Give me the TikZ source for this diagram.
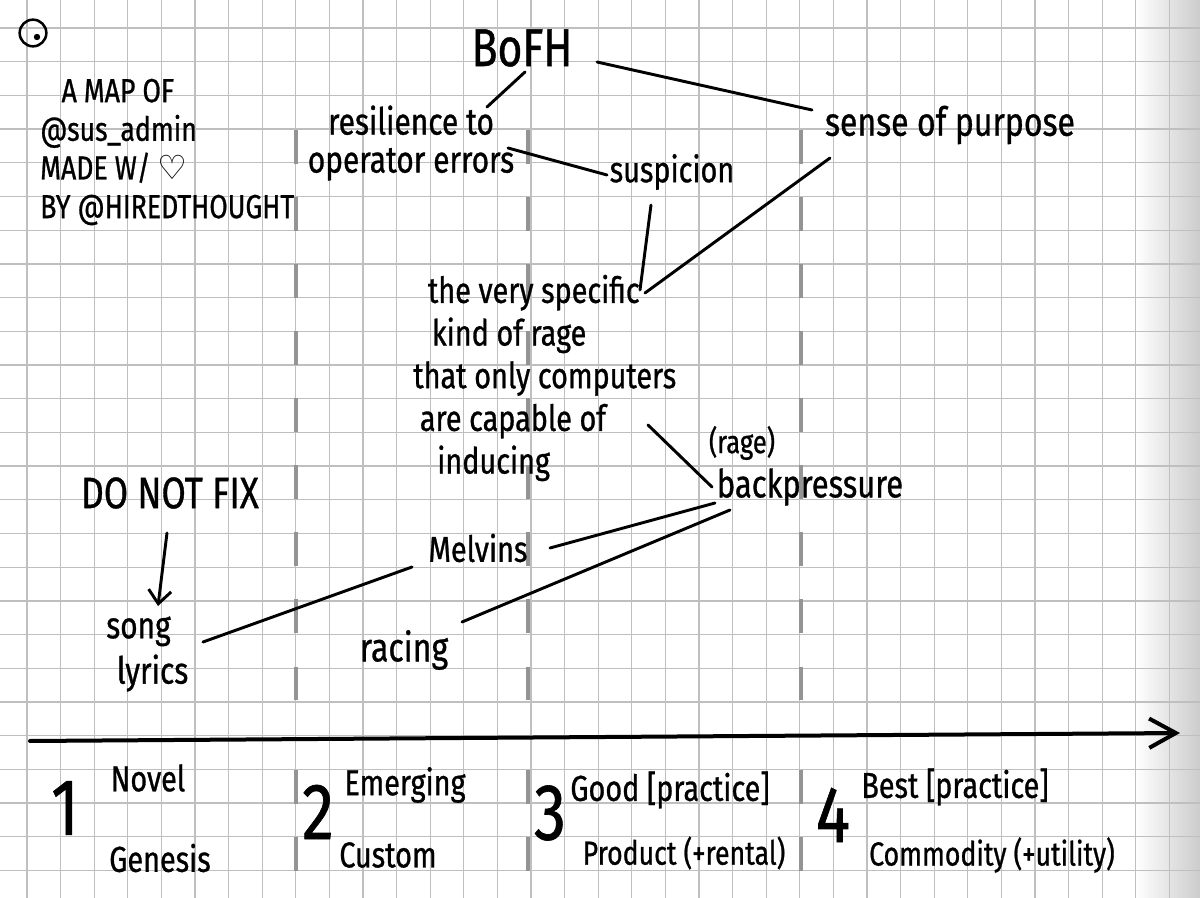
\documentclass[tikz,border=0pt]{standalone}
\usepackage{fontspec}
\setmainfont{Fira Sans}[FakeStretch=0.8,FakeBold=0.8]
\newfontfamily\heartfont{DejaVu Sans}
\usetikzlibrary{arrows.meta}
\newcommand\handsize[2]{\fontsize{#1}{#2}\selectfont}
\tikzset{
  gridline/.style={black!25, line width=1pt},
  stageline/.style={black!42, line width=2.4pt, dash pattern=on 25.5pt off 24.8pt},
  link/.style={line width=2.2pt, line cap=round},
  hand/.style={inner sep=0pt, align=center, font=\handsize{27}{32}},
  stagenum/.style={inner sep=0pt, font=\handsize{60}{60}},
}

\begin{document}
\begin{tikzpicture}[x=0.75pt,y=-0.75pt]
  % Paper
  \useasboundingbox (0,0) rectangle (1200,898);
  \fill[white] (0,0) rectangle (1200,898);
  \shade[left color=white,right color=black!20] (1135,0) rectangle (1200,898);
  \foreach \i in {0,...,35}
    \draw[gridline] ({27+33.6*\i},0) -- ({27+33.6*\i},898);
  \foreach \j in {0,...,26}
    \draw[gridline] (0,{28+33.7*\j}) -- (1200,{28+33.7*\j});
  % Stages
  \foreach \x in {296,528,801} {
    \draw[stageline] (\x,130) -- (\x,700);
    \draw[stageline] (\x,770) -- (\x,875);
  }
  % Evolution axis
  \coordinate (axisstart) at (30,741);
  \coordinate (axisend) at (1180,733);
  \draw[line width=3pt, line cap=round, -{Straight Barb[length=20pt,width=22pt]}] (axisstart) -- (axisend);

  % User
  \node[circle, draw, line width=1.9pt, minimum size=20pt, inner sep=0pt] (user) at (33,33) {};
  \fill ([shift={(4,4)}]user.center) circle (2.4pt);
  \node[hand, align=left, anchor=west, font=\handsize{25}{29}] (credits) at (40,152)
    {\hspace*{16pt}A MAP OF\\@sus\_admin\\MADE W/ {\heartfont ♡}\\BY @HIREDTHOUGHT};

  % Components
  \node[hand, font=\handsize{40}{40}] (bofh) at (522,48) {BoFH};
  \node[hand, font=\handsize{28}{28.5}] (resilience) at (411,143) {resilience to\\operator errors};
  \node[hand] (suspicion) at (672,172) {suspicion};
  \node[hand, font=\handsize{30}{32}] (purpose) at (950,125) {sense of purpose};
  \node[hand, align=left, anchor=west] (rage) at (413,378)
    {\hspace*{11pt}the very specific\\\hspace*{14pt}kind of rage\\that only computers\\\hspace*{5pt}are capable of\\\hspace*{18pt}inducing};
  \node[hand, font=\handsize{24}{24}] (ragetag) at (742,443) {(rage)};
  \node[hand, font=\handsize{29}{30}] (backpressure) at (810,487) {backpressure};
  \node[hand, font=\handsize{33}{33}] (donotfix) at (170,493) {DO NOT FIX};
  \node[hand, align=left, anchor=west, font=\handsize{28}{34}] (lyrics) at (106,654) {song\\\hspace*{8pt}lyrics};
  \node[hand] (melvins) at (478,548) {Melvins};
  \node[hand, font=\handsize{30}{30}] (racing) at (404,650) {racing};

  % Links
  \draw[link] ([shift={(3,24)}]bofh.center) -- ([shift={(76,-36)}]resilience.center);
  \draw[link] ([shift={(75,14)}]bofh.center) -- ([shift={(-138,-15)}]purpose.center);
  \draw[link] ([shift={(97,5)}]resilience.center) -- ([shift={(-65,3)}]suspicion.center);
  \draw[link] ([shift={(-21,33)}]suspicion.center) -- ([shift={(227,-88)}]rage.west);
  \draw[link] ([shift={(-120,33)}]purpose.center) -- ([shift={(232,-85)}]rage.west);
  \draw[link] ([shift={(235,47)}]rage.west) -- ([shift={(-98,0)}]backpressure.center);
  \draw[link] ([shift={(-95,16)}]backpressure.center) -- ([shift={(72,0)}]melvins.center);
  \draw[link] ([shift={(-80,23)}]backpressure.center) -- ([shift={(58,-28)}]racing.center);
  \draw[link] ([shift={(-66,19)}]melvins.center) -- ([shift={(97,-12)}]lyrics.west);
  \draw[link, -{Straight Barb[length=10pt,width=17pt]}] ([shift={(-3,40)}]donotfix.center) -- ([shift={(52,-48)}]lyrics.west);

  % Stage labels
  \node[stagenum] (one) at (65,808) {1};
  \node[hand] (novel) at (148,778) {Novel};
  \node[hand] (genesis) at (160,858) {Genesis};
  \node[stagenum] (two) at (318,812) {2};
  \node[hand] (emerging) at (405,785) {Emerging};
  \node[hand] (custom) at (388,855) {Custom};
  \node[stagenum] (three) at (550,813) {3};
  \node[hand] (good) at (670,790) {Good [practice]};
  \node[hand, font=\handsize{25}{30}] (product) at (684,853) {Product (+rental)};
  \node[stagenum] (four) at (833,815) {4};
  \node[hand] (best) at (955,787) {Best [practice]};
  \node[hand, font=\handsize{25}{30}] (commodity) at (992,855) {Commodity (+utility)};
\end{tikzpicture}
\end{document}
